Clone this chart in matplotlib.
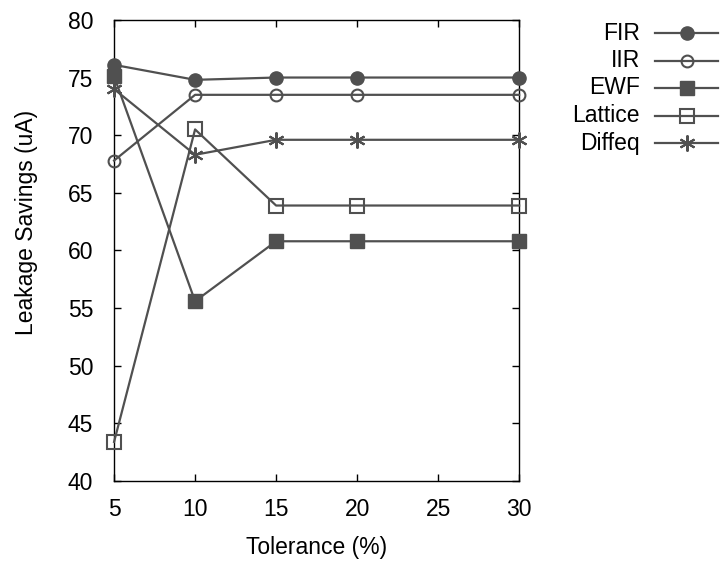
import matplotlib
matplotlib.use("Agg")
import matplotlib.pyplot as plt
from matplotlib.lines import Line2D

plt.rcParams["font.family"] = ["Liberation Sans", "DejaVu Sans"]

tolerance = [5, 10, 15, 20, 30]
fir = [76.1, 74.8, 75.0, 75.0, 75.0]
iir = [67.8, 73.5, 73.5, 73.5, 73.5]
ewf = [75.1, 55.6, 60.8, 60.8, 60.8]
lattice = [43.4, 70.5, 63.9, 63.9, 63.9]
diffeq = [74.0, 68.3, 69.6, 69.6, 69.6]

names = ["FIR", "IIR", "EWF", "Lattice", "Diffeq"]
series = [fir, iir, ewf, lattice, diffeq]

GREY = "#505050"
FS = 16.5
# gnuplot draws open points without fill, so the line shows through them
styles = [
    dict(marker="o", ms=9.5, mfc=GREY),
    dict(marker="o", ms=8.5, mfc="none", mew=1.5),
    dict(marker="s", ms=10, mfc=GREY),
    dict(marker="s", ms=10, mfc="none", mew=1.5),
    dict(marker=(6, 2, 0), ms=11.5, mew=1.5),
]


def main():
    fig = plt.figure(figsize=(7.22, 5.68), dpi=100)
    ax = fig.add_axes([0.158, 0.153, 0.561, 0.812])

    for vals, st in zip(series, styles):
        ax.plot(tolerance, vals, color=GREY, lw=1.6, mec=GREY, clip_on=False,
                zorder=3, **st)

    ax.set_xlim(5, 30)
    ax.set_ylim(40, 80)
    ax.set_xticks([5, 10, 15, 20, 25, 30])
    ax.set_yticks(range(40, 81, 5))
    ax.tick_params(direction="in", length=5, width=1, labelsize=FS,
                   top=True, right=True)
    ax.tick_params(axis="x", pad=12)
    ax.tick_params(axis="y", pad=15)
    for sp in ax.spines.values():
        sp.set_linewidth(1)
    ax.set_xlabel("Tolerance (%)", fontsize=FS, va="center")
    ax.set_ylabel("Leakage Savings (uA)", fontsize=FS, va="center")
    ax.xaxis.set_label_coords(0.5, -0.145)
    ax.yaxis.set_label_coords(-0.215, 0.56)

    # gnuplot style key: right-justified text, sample line after it
    for i, (name, st) in enumerate(zip(names, styles)):
        y = 1 - (33 + 27.5 * i) / 568
        fig.text(640 / 722, y, name, ha="right", va="center", fontsize=FS)
        fig.add_artist(Line2D([655 / 722, 718 / 722], [y, y], color=GREY,
                              lw=1.6, transform=fig.transFigure))
        fig.add_artist(Line2D([686.5 / 722], [y], color=GREY, mec=GREY,
                              transform=fig.transFigure, **st))

    fig.savefig("out.png", dpi=100)


if __name__ == "__main__":
    main()
